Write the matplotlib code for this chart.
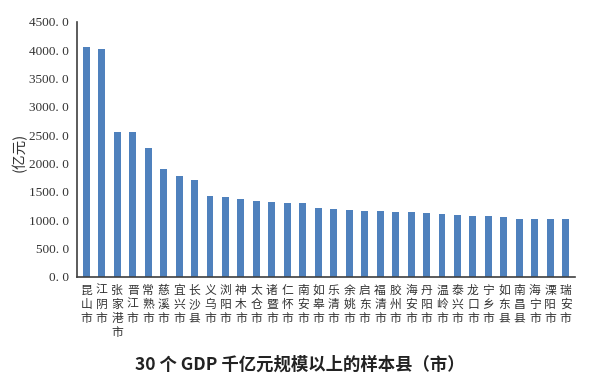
import matplotlib
matplotlib.use('Agg')
import matplotlib.pyplot as plt

plt.rcParams['font.family'] = ['Noto Sans CJK SC', 'DejaVu Sans']

#Data
counties = ['昆山市', '江阴市', '张家港市', '晋江市', '常熟市', '慈溪市', '宜兴市', '长沙县',
            '义乌市', '浏阳市', '神木市', '太仓市', '诸暨市', '仁怀市', '南安市', '如皋市',
            '乐清市', '余姚市', '启东市', '福清市', '胶州市', '海安市', '丹阳市', '温岭市',
            '泰兴市', '龙口市', '宁乡市', '如东县', '南昌县', '海宁市', '溧阳市', '瑞安市']
gdp = [4055, 4012, 2553, 2553, 2276, 1906, 1772, 1706,
       1429, 1412, 1365, 1330, 1318, 1306, 1295, 1218,
       1200, 1171, 1159, 1159, 1147, 1135, 1118, 1112,
       1088, 1077, 1071, 1059, 1024, 1024, 1012, 1012]
y_ticks = [0, 500, 1000, 1500, 2000, 2500, 3000, 3500, 4000, 4500]

fig = plt.figure(figsize=(5.89, 3.74), dpi=100)
ax = fig.add_axes([77/589, 1 - 276.7/374, 498/589, 255/374])

x = range(len(counties))
ax.bar(x, gdp, width=0.45, color='#4f81bd')

ax.set_xlim(-0.6, len(counties) - 0.4)
ax.set_ylim(0, 4500)
ax.set_yticks(y_ticks)
ax.set_yticklabels(['%d. 0' % v for v in y_ticks], family='Liberation Serif', fontsize=9.5, color='#333333')
ax.set_xticks(list(x))
ax.set_xticklabels(['\n'.join(name) for name in counties], fontsize=8.5, color='#333333',
                   linespacing=1.1, va='top')
ax.tick_params(axis='both', length=0, pad=6)
ax.tick_params(axis='x', pad=5)

for side in ['top', 'right']:
    ax.spines[side].set_visible(False)
for side in ['left', 'bottom']:
    ax.spines[side].set_color('#404040')
    ax.spines[side].set_linewidth(1.2)

fig.text(19/589, 1 - 152/374, '(亿元)', rotation=90, ha='center', va='center', fontsize=10.5, color='#333333')
fig.text(300/589, 1 - 365/374, '30 个 GDP 千亿元规模以上的样本县（市）', ha='center', va='center',
         fontsize=12.5, fontweight='bold', color='#222222')

fig.savefig('out.png', dpi=100)
